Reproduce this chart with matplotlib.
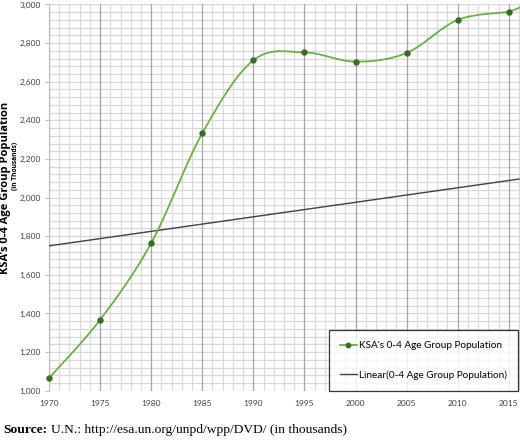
import numpy as np
import matplotlib
matplotlib.use('Agg')
import matplotlib.pyplot as plt
from matplotlib.ticker import MultipleLocator, FuncFormatter

# KSA 0-4 age group population (thousands)
years = [1970, 1975, 1980, 1985, 1990, 1995, 2000, 2005, 2010, 2015]
population = [1065, 1367, 1764, 2333, 2711, 2752, 2704, 2749, 2920, 2961]

# trendline as drawn in the source chart
trend_years = [1970, 2016]
trend_values = [1750, 2096]

label_series = "KSA's 0-4 Age Group Population"
label_trend = "Linear(0-4 Age Group Population)"


def smooth(x, y, n=30):
    # excel style smoothed line (catmull-rom bezier)
    x = np.asarray(x, float)
    y = np.asarray(y, float)
    px = np.concatenate([[x[0]], x, [x[-1]]])
    py = np.concatenate([[y[0]], y, [y[-1]]])
    xs, ys = [], []
    t = np.linspace(0, 1, n)
    for i in range(1, len(px) - 2):
        p0 = np.array([px[i], py[i]])
        p3 = np.array([px[i + 1], py[i + 1]])
        p1 = p0 + (np.array([px[i + 1], py[i + 1]]) - np.array([px[i - 1], py[i - 1]])) / 6
        p2 = p3 - (np.array([px[i + 2], py[i + 2]]) - np.array([px[i], py[i]])) / 6
        b = ((1 - t) ** 3)[:, None] * p0 + (3 * (1 - t) ** 2 * t)[:, None] * p1 \
            + (3 * (1 - t) * t ** 2)[:, None] * p2 + (t ** 3)[:, None] * p3
        xs.extend(b[:, 0])
        ys.extend(b[:, 1])
    return np.array(xs), np.array(ys)


sx, sy = smooth(years, population)
# the original keeps rising past the last point (cropped)
sx = np.append(sx, 2016.3)
sy = np.append(sy, population[-1] + 28)

fig = plt.figure(figsize=(5.2, 4.4), dpi=100)
ax = fig.add_axes([49 / 520, 49.3 / 440, 471 / 520, 386.2 / 440])

ax.set_xlim(1970, 2016.1)
ax.set_ylim(1000, 3000)
ax.xaxis.set_major_locator(MultipleLocator(5))
ax.xaxis.set_minor_locator(MultipleLocator(1))
ax.yaxis.set_major_locator(MultipleLocator(200))
ax.yaxis.set_minor_locator(MultipleLocator(40))
ax.yaxis.set_major_formatter(FuncFormatter(lambda v, p: f'{int(v):,}'))

ax.grid(which='minor', axis='x', color='#d9d9d9', lw=0.9)
ax.grid(which='both', axis='y', color='#d9d9d9', lw=0.9)
for xv in np.arange(1970, 2016, 5):
    ax.axvline(xv, color='#a6a6a6', lw=0.9, zorder=1)
ax.set_axisbelow(True)

for s in ['top', 'right', 'bottom']:
    ax.spines[s].set_visible(False)
ax.spines['left'].set_color('#bfbfbf')
ax.tick_params(axis='both', which='minor', length=0)
ax.tick_params(axis='y', which='major', length=3, color='#bfbfbf', labelsize=6, labelcolor='#404040', pad=3)
ax.tick_params(axis='x', which='major', length=0, labelsize=6, labelcolor='#404040', pad=7)
for lab in ax.get_xticklabels() + ax.get_yticklabels():
    lab.set_family('Lato')

ax.plot(trend_years, trend_values, color='#404040', lw=1.0, zorder=3)
ax.plot(sx, sy, color='#70ad47', lw=1.3, zorder=4)
ax.plot(years, population, 'o', color='#3a6b24', ms=3.6, zorder=5, clip_on=False)
h1, = ax.plot([], [], color='#70ad47', lw=1.3, marker='o', mfc='#3a6b24', mec='#3a6b24', ms=3.2)
h2, = ax.plot([], [], color='#404040', lw=1.0)

leg = ax.legend([h1, h2], [label_series, label_trend], loc='lower right',
                bbox_to_anchor=(0.996, 0.0), frameon=True, fancybox=False,
                prop={'family': 'Lato', 'size': 7.2}, labelspacing=2.0,
                handlelength=1.7, handletextpad=0.25, borderpad=1.1, borderaxespad=0)
leg.get_frame().set_edgecolor('black')
leg.get_frame().set_linewidth(0.9)
leg.set_zorder(6)

fig.text(5.5 / 520, 1 - 188 / 440, "KSA's 0-4 Age Group Population", rotation=90,
         ha='center', va='center', fontsize=8, fontweight='bold', family='Open Sans')
fig.text(15.5 / 520, 1 - 166 / 440, "(in Thousands)", rotation=90,
         ha='center', va='center', fontsize=4.8, fontweight='bold', family='Open Sans')

# source line: bold prefix followed by regular text
fig.canvas.draw()
src_y = 1 - 430 / 440
t1 = fig.text(3 / 520, src_y, "Source:", fontsize=9.7, fontweight='bold',
              family='Liberation Serif', va='center')
bb = t1.get_window_extent(renderer=fig.canvas.get_renderer())
fig.text((bb.x1 + 4) / 520, src_y, "U.N.: http://esa.un.org/unpd/wpp/DVD/ (in thousands)",
         fontsize=9.7, family='Liberation Serif', va='center')

fig.savefig('out.png', dpi=100)
